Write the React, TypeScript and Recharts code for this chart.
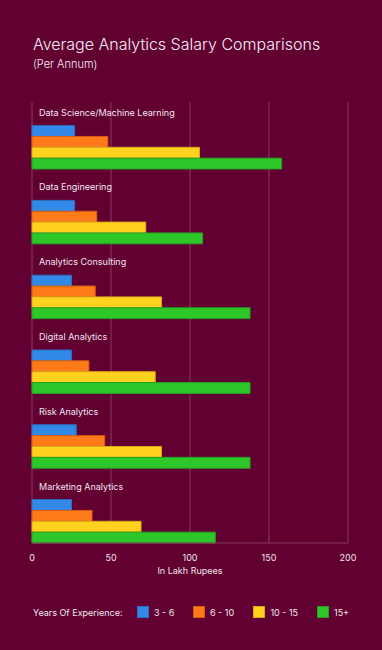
import React from 'react';
import { BarChart, Bar, XAxis, YAxis, CartesianGrid, LabelList } from 'recharts';

// Roles (categories), top to bottom
const roles = [
  'Data Science/Machine Learning',
  'Data Engineering',
  'Analytics Consulting',
  'Digital Analytics',
  'Risk Analytics',
  'Marketing Analytics'
];

// Salary in lakh rupees per experience band
const exp3to6 = [27, 27, 25, 25, 28, 25];
const exp6to10 = [48, 41, 40, 36, 46, 38];
const exp10to15 = [106, 72, 82, 78, 82, 69];
const exp15plus = [158, 108, 138, 138, 138, 116];

const xTicks = [0, 50, 100, 150, 200];

const series = [
  { key: 'a', name: '3 - 6', fill: '#3389E8', stroke: '#2c6fc0' },
  { key: 'b', name: '6 - 10', fill: '#FF7A18', stroke: '#d65f12' },
  { key: 'c', name: '10 - 15', fill: '#FFD21F', stroke: '#d9a81a' },
  { key: 'd', name: '15+', fill: '#2EC72A', stroke: '#25a022' }
];

const data = roles.map((role, i) => ({
  role,
  a: exp3to6[i],
  b: exp6to10[i],
  c: exp10to15[i],
  d: exp15plus[i]
}));

const BG = '#620032';
const GRID = '#8a3a62';
const TEXT = '#f1e6ec';
const FONT = 'Inter, "Noto Sans", sans-serif';

const RoleLabel = (props: any) => {
  const { x, y, value } = props;
  return (
    <text x={x + 7} y={y - 10} fill={TEXT} fontSize={9} fontFamily={FONT}>
      {value}
    </text>
  );
};

const App = () => {
  return (
    <div style={{ position: 'absolute', left: 0, top: 0, width: 382, height: 650, background: BG, fontFamily: FONT, overflow: 'hidden' }}>
      <div style={{ position: 'absolute', left: 33, top: 34, color: '#f5eef2', fontSize: 16, fontWeight: 300, whiteSpace: 'nowrap' }}>
        Average Analytics Salary Comparisons
      </div>
      <div style={{ position: 'absolute', left: 33, top: 57, color: '#f5eef2', fontSize: 11, fontWeight: 300 }}>
        (Per Annum)
      </div>

      <div style={{ position: 'absolute', left: 0, top: 0 }}>
        <BarChart
          width={382}
          height={590}
          data={data}
          layout="vertical"
          margin={{ top: 102, right: 34, bottom: 11, left: 32 }}
          barSize={10.85}
          barGap={0}
        >
          <CartesianGrid horizontal={false} stroke={GRID} />
          <XAxis
            type="number"
            domain={[0, 200]}
            ticks={xTicks}
            stroke={GRID}
            tickLine={false}
            tick={{ fill: TEXT, fontSize: 9, fontFamily: FONT }}
            tickMargin={6}
            height={36}
            label={{ value: 'In Lakh Rupees', position: 'insideBottom', offset: 5, fill: TEXT, fontSize: 9, fontFamily: FONT }}
          />
          <YAxis type="category" dataKey="role" hide padding={{ top: 7.6, bottom: -15.4 }} />
          {series.map((s, i) => (
            <Bar key={s.key} dataKey={s.key} name={s.name} fill={s.fill} stroke={s.stroke} strokeWidth={1} isAnimationActive={false}>
              {i === 0 && <LabelList dataKey="role" content={RoleLabel} />}
            </Bar>
          ))}
        </BarChart>
      </div>

      <div style={{ position: 'absolute', left: 33, top: 606, display: 'flex', alignItems: 'center', color: TEXT, fontSize: 9, whiteSpace: 'nowrap' }}>
        <span style={{ width: 104, flexShrink: 0 }}>Years Of Experience:</span>
        {series.map((s, i) => (
          <span key={s.key} style={{ display: 'flex', alignItems: 'center', flexShrink: 0, width: [56, 60.4, 63.6, 40][i] }}>
            <span style={{ display: 'inline-block', width: 10, height: 10, background: s.fill, border: `1px solid ${s.stroke}`, marginRight: 5 }} />
            {s.name}
          </span>
        ))}
      </div>
    </div>
  );
};

export default App;
